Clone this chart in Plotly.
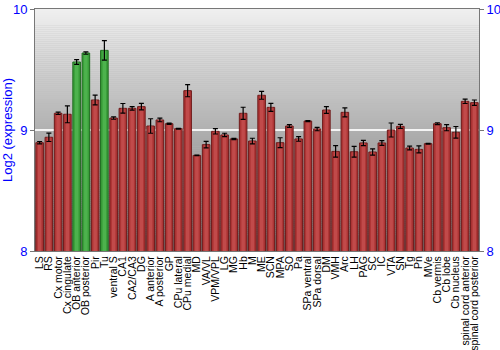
import plotly.graph_objects as go

categories = ["LS", "RS", "Cx motor", "Cx cingulate", "OB anterior", "OB posterior", "Pir", "Tu",
              "ventral S", "CA1", "CA2/CA3", "DG", "A anterior", "A posterior", "GP", "CPu lateral",
              "CPu medial", "MD", "VA/VL", "VPM/VPL", "LG", "MG", "Hb", "M", "ME", "SCN", "MPA", "SO",
              "Pa", "SPa ventral", "SPa dorsal", "DM", "VMH", "Arc", "LH", "PAG", "SC", "IC", "VTA",
              "SN", "Tg", "Pn", "MVe", "Cb vermis", "Cb lobe", "Cb nucleus", "spinal cord anterior",
              "spinal cord posterior"]
values = [8.895, 8.94, 9.138, 9.13, 9.562, 9.636, 9.248, 9.658,
          9.099, 9.179, 9.179, 9.193, 9.033, 9.083, 9.052, 9.011,
          9.325, 8.79, 8.879, 8.989, 8.959, 8.926, 9.138, 8.909, 9.287, 9.187, 8.895, 9.033,
          8.926, 9.074, 9.008, 9.165, 8.823, 9.146, 8.82, 8.893, 8.818, 8.893, 9.0,
          9.03, 8.851, 8.84, 8.887, 9.052, 9.019, 8.981, 9.237, 9.226]
errors = [0.01, 0.035, 0.01, 0.07, 0.02, 0.01, 0.04, 0.08,
          0.01, 0.04, 0.015, 0.027, 0.06, 0.015, 0.005, 0.003,
          0.05, 0.003, 0.027, 0.022, 0.014, 0.005, 0.05, 0.023, 0.033, 0.033, 0.041, 0.012,
          0.019, 0.004, 0.014, 0.028, 0.048, 0.037, 0.044, 0.022, 0.026, 0.02, 0.058,
          0.017, 0.015, 0.029, 0.003, 0.008, 0.025, 0.048, 0.018, 0.022]
highlighted = ["OB anterior", "OB posterior", "Tu"]

base_col = ["#3a9e3a" if c in highlighted else "#ad3535" for c in categories]
edge_col = ["#1f6b1f" if c in highlighted else "#6e1a1a" for c in categories]
hi_col = ["#52b852" if c in highlighted else "#c65050" for c in categories]

fig = go.Figure()
fig.add_trace(go.Bar(x=categories, y=values, width=0.82,
                     marker=dict(color=base_col, line=dict(color=edge_col, width=1)),
                     showlegend=False, hoverinfo="skip"))
fig.add_trace(go.Bar(x=categories, y=values, width=0.38,
                     marker=dict(color=hi_col, line=dict(width=0)), opacity=0.8,
                     showlegend=False, hoverinfo="skip"))
fig.add_trace(go.Scatter(x=categories, y=values, mode="markers",
                         marker=dict(size=1, color="rgba(0,0,0,0)"),
                         error_y=dict(type="data", array=errors, color="black", thickness=1.2, width=2.5),
                         showlegend=False, hoverinfo="skip"))
fig.add_trace(go.Scatter(x=[categories[0]], y=[9], yaxis="y2", mode="markers",
                         marker=dict(size=1, color="rgba(0,0,0,0)"), showlegend=False, hoverinfo="skip"))

# vertical grey gradient background
n = 120
shapes = []
top = (240, 240, 240)
bot = (112, 112, 112)
for i in range(n):
    t = (i + 0.5) / n
    c = tuple(int(round(top[k] + (bot[k] - top[k]) * t)) for k in range(3))
    y1 = 10 - 2 * i / n
    y0 = 10 - 2 * (i + 1) / n
    shapes.append(dict(type="rect", xref="paper", yref="y", x0=0, x1=1, y0=y0, y1=y1,
                       fillcolor="rgb(%d,%d,%d)" % c, line=dict(width=0), layer="below"))

fig.update_layout(
    width=500, height=350,
    margin=dict(l=35, r=21, t=9, b=99, autoexpand=False),
    paper_bgcolor="white", plot_bgcolor="#bbbbbb",
    barmode="overlay", bargap=0.1,
    font=dict(family="Arial, Liberation Sans, sans-serif"),
    shapes=shapes,
    xaxis=dict(tickangle=-90, tickfont=dict(size=10.5, color="black"), showline=True,
               tickmode="array", tickvals=categories, ticktext=categories,
               range=[-0.5, len(categories) - 0.5], autorange=False,
               linecolor="#777", mirror=True, ticks="", showgrid=False, automargin=False),
    yaxis=dict(range=[8, 10], tickvals=[8, 9, 10], tickfont=dict(size=13, color="blue"),
               title=dict(text="Log2 (expression)", font=dict(size=13, color="blue")),
               showline=True, linecolor="#777", ticks="outside", ticklen=4, tickcolor="#777",
               showgrid=True, gridcolor="#f4f4f4", gridwidth=1.5, zeroline=False, automargin=False),
    yaxis2=dict(range=[8, 10], tickvals=[8, 9, 10], tickfont=dict(size=13, color="blue"),
                overlaying="y", side="right", showline=True, linecolor="#777", automargin=False,
                ticks="outside", ticklen=4, tickcolor="#777", showgrid=False, zeroline=False),
)

fig.write_html("out.html")
